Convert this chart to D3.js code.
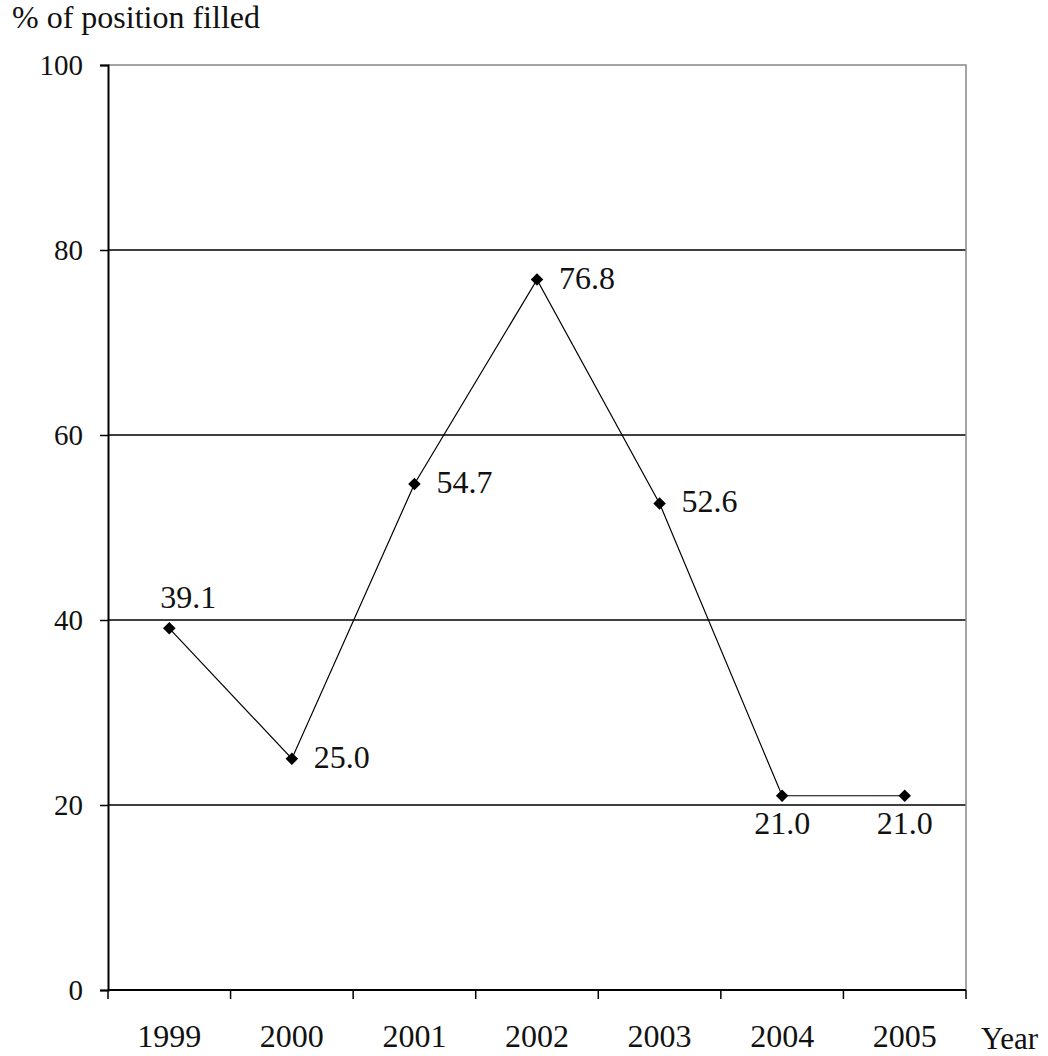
<meta charset="utf-8">
<script src="https://d3js.org/d3.v7.min.js"></script>
<style>
  body { margin: 0; background: #fff; }
  text { font-family: "Liberation Serif", "Times New Roman", serif; fill: #111; }
</style>
<svg width="1048" height="1056"></svg>
<script>
// data
var years = ["1999", "2000", "2001", "2002", "2003", "2004", "2005"];
var filled = [39.1, 25.0, 54.7, 76.8, 52.6, 21.0, 21.0];
// where each value label sits relative to its point
var labelPos = ["above", "right", "right", "right", "right", "below", "below"];
var yTicks = [0, 20, 40, 60, 80, 100];

var svg = d3.select("svg");
var pLeft = 108, pRight = 966, pTop = 65, pBottom = 990;

var x = d3.scaleBand().domain(years).range([pLeft, pRight]);
var y = d3.scaleLinear().domain([0, 100]).range([pBottom, pTop]);

// gridlines
svg.append("g")
  .selectAll("line")
  .data(yTicks.filter(function(d) { return d > 0 && d < 100; }))
  .enter()
  .append("line")
  .attr("x1", pLeft).attr("x2", pRight)
  .attr("y1", function(d) { return y(d); })
  .attr("y2", function(d) { return y(d); })
  .attr("stroke", "#000")
  .attr("stroke-width", 1.5);

// top + right border (grey)
svg.append("path")
  .attr("d", "M" + pLeft + "," + y(100) + "H" + pRight + "V" + pBottom)
  .attr("fill", "none")
  .attr("stroke", "#888")
  .attr("stroke-width", 1.5);

// y axis
var yAxis = svg.append("g")
  .attr("transform", "translate(" + pLeft + ",0)")
  .call(d3.axisLeft(y).tickValues(yTicks).tickSize(8).tickPadding(17));
yAxis.select(".domain").attr("stroke", "#000").attr("stroke-width", 2);
yAxis.selectAll(".tick line").attr("stroke", "#000").attr("stroke-width", 1.5);
yAxis.selectAll("text")
  .attr("font-size", 29)
  .style("font-family", "'Liberation Serif'")
  .attr("fill", "#111");

// x axis: ticks at band edges, labels centred
var xAxis = svg.append("g").attr("transform", "translate(0," + pBottom + ")");
xAxis.append("line")
  .attr("x1", pLeft).attr("x2", pRight)
  .attr("stroke", "#000").attr("stroke-width", 2);
var edges = years.map(function(d) { return x(d); }).concat([pRight]);
xAxis.selectAll(".edge")
  .data(edges)
  .enter()
  .append("line")
  .attr("class", "edge")
  .attr("x1", function(d) { return d; })
  .attr("x2", function(d) { return d; })
  .attr("y1", 0).attr("y2", 9)
  .attr("stroke", "#000").attr("stroke-width", 1.5);
xAxis.selectAll(".yr")
  .data(years)
  .enter()
  .append("text")
  .attr("class", "yr")
  .attr("x", function(d) { return x(d) + x.bandwidth() / 2; })
  .attr("y", 57)
  .attr("text-anchor", "middle")
  .attr("font-size", 32)
  .text(function(d) { return d; });

svg.append("text")
  .attr("x", 981).attr("y", pBottom + 59)
  .attr("font-size", 31)
  .text("Year");

svg.append("text")
  .attr("x", 12).attr("y", 28)
  .attr("font-size", 32)
  .text("% of position filled");

// line + markers
var cx = function(i) { return x(years[i]) + x.bandwidth() / 2; };
var line = d3.line()
  .x(function(d, i) { return cx(i); })
  .y(function(d) { return y(d); });

svg.append("path")
  .datum(filled)
  .attr("d", line)
  .attr("fill", "none")
  .attr("stroke", "#000")
  .attr("stroke-width", 1.2);

svg.append("g")
  .selectAll("path")
  .data(filled)
  .enter()
  .append("path")
  .attr("d", d3.symbol().type(d3.symbolDiamond2).size(100))
  .attr("transform", function(d, i) { return "translate(" + cx(i) + "," + y(d) + ")"; })
  .attr("fill", "#000");

svg.append("g")
  .selectAll("text")
  .data(filled)
  .enter()
  .append("text")
  .attr("x", function(d, i) {
    if (labelPos[i] == "right") return cx(i) + 22;
    if (labelPos[i] == "below") return cx(i);
    return cx(i) - 9;
  })
  .attr("y", function(d, i) {
    if (labelPos[i] == "above") return y(d) - 20;
    if (labelPos[i] == "below") return y(d) + 38;
    return y(d) + 9;
  })
  .attr("text-anchor", function(d, i) { return labelPos[i] == "below" ? "middle" : "start"; })
  .attr("font-size", 32)
  .text(function(d) { return d.toFixed(1); });
</script>
